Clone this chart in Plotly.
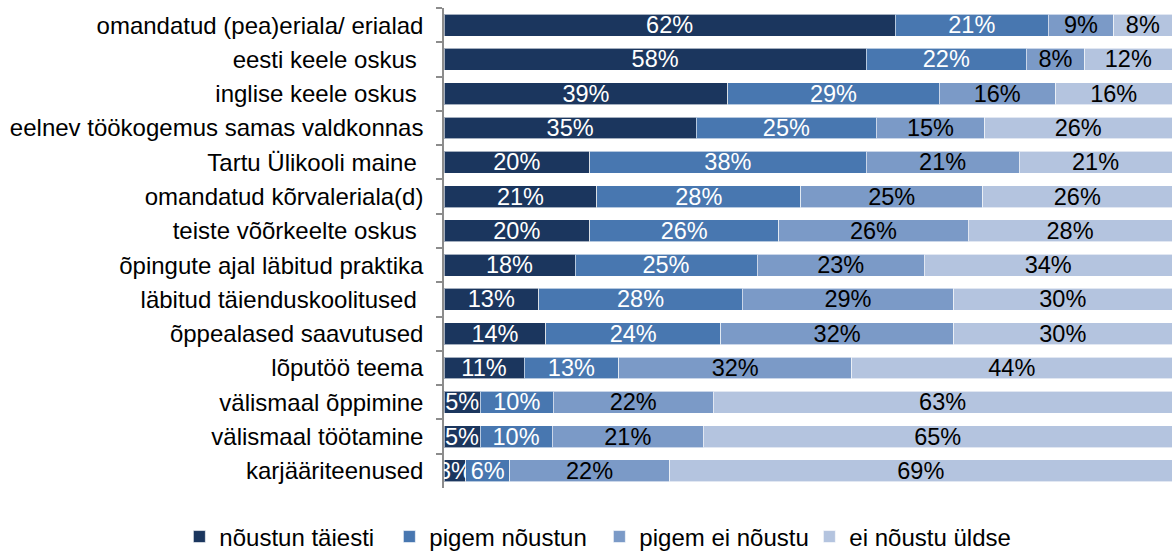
import plotly.graph_objects as go

categories = [
    "omandatud (pea)eriala/ erialad",
    "eesti keele oskus\u00a0",
    "inglise keele oskus\u00a0",
    "eelnev töökogemus samas valdkonnas",
    "Tartu Ülikooli maine\u00a0",
    "omandatud kõrvaleriala(d)",
    "teiste võõrkeelte oskus\u00a0",
    "õpingute ajal läbitud praktika",
    "läbitud täienduskoolitused\u00a0",
    "õppealased saavutused",
    "lõputöö teema",
    "välismaal õppimine",
    "välismaal töötamine",
    "karjääriteenused",
]

series_names = ["nõustun täiesti", "pigem nõustun", "pigem ei nõustu", "ei nõustu üldse"]

noustun_taiesti = [62, 58, 39, 35, 20, 21, 20, 18, 13, 14, 11, 5, 5, 3]
pigem_noustun = [21, 22, 29, 25, 38, 28, 26, 25, 28, 24, 13, 10, 10, 6]
pigem_ei_noustu = [9, 8, 16, 15, 21, 25, 26, 23, 29, 32, 32, 22, 21, 22]
ei_noustu_uldse = [8, 12, 16, 26, 21, 26, 28, 34, 30, 30, 44, 63, 65, 69]

colors = ["#1B365E", "#4877B0", "#7B9AC7", "#B4C4DF"]
text_colors = ["white", "white", "black", "black"]

FONT = "Liberation Sans, Arial, sans-serif"

fig = go.Figure()
for name, vals, col, tcol in zip(
    series_names,
    [noustun_taiesti, pigem_noustun, pigem_ei_noustu, ei_noustu_uldse],
    colors,
    text_colors,
):
    fig.add_trace(
        go.Bar(
            y=categories,
            x=vals,
            name=name,
            orientation="h",
            marker=dict(color=col, line=dict(color="rgba(255,255,255,0.6)", width=1)),
            text=[f"{v}%" for v in vals],
            textposition="inside",
            insidetextanchor="middle",
            constraintext="none",
            cliponaxis=False,
            textangle=0,
            textfont=dict(color=tcol, size=23.5, family=FONT),
            hoverinfo="x+y+name",
        )
    )

fig.update_layout(
    barmode="stack",
    barnorm="percent",
    bargap=0.36,
    width=1173,
    height=553,
    margin=dict(l=444, r=1, t=8, b=65, autoexpand=False),
    paper_bgcolor="white",
    plot_bgcolor="white",
    font=dict(family=FONT, size=24, color="black"),
    showlegend=True,
    legend=dict(
        orientation="h",
        xref="paper",
        x=-0.3635,
        xanchor="left",
        yref="paper",
        y=-0.102,
        yanchor="middle",
        entrywidth=165,
        entrywidthmode="pixels",
        font=dict(size=24, family=FONT),
        traceorder="normal",
        itemclick=False,
    ),
    xaxis=dict(
        range=[0, 100],
        showgrid=False,
        zeroline=False,
        showticklabels=False,
        showline=False,
        ticks="",
        fixedrange=True,
    ),
    yaxis=dict(
        autorange="reversed",
        automargin=False,
        showgrid=False,
        showline=True,
        linecolor="#8C8C8C",
        linewidth=1.5,
        ticks="outside",
        tickson="boundaries",
        ticklen=6,
        tickwidth=1.5,
        tickcolor="#8C8C8C",
        tickfont=dict(size=24, color="black", family=FONT),
        ticklabelstandoff=14,
        fixedrange=True,
    ),
)

fig.write_html(
    "out.html",
    config={"displayModeBar": False},
    post_script="document.body.style.margin='0';document.body.style.overflow='hidden';",
)
